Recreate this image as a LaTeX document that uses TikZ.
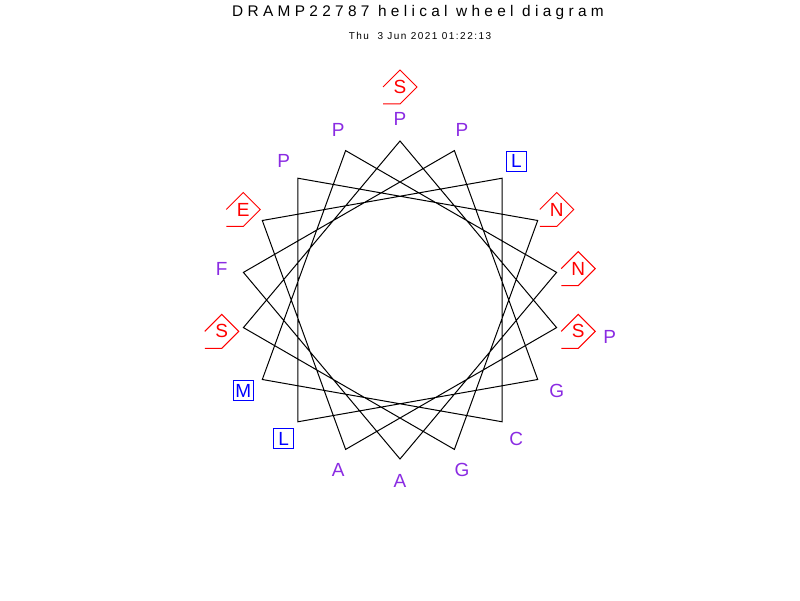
\documentclass[tikz,border=0pt]{standalone}
\usepackage{fontspec}
\setmainfont{Liberation Sans}
\usepackage{tikz}
\usetikzlibrary{positioning,calc}

\definecolor{hydviolet}{RGB}{138,43,226}

% open pentagon drawn round a polar residue
\newcommand{\polmark}[1]{%
  \draw[polline] ([xshift=-17pt]#1.center) -- ++(17,17) -- ++(17,-17)
    -- ++(-17,-17) -- ++(-17,0);}

\begin{document}
\begin{tikzpicture}[
  x=1pt, y=1pt,
  every node/.style={inner sep=0pt, font=\fontsize{19}{19}\selectfont},
  titletext/.style={font=\fontsize{15.4}{16}\selectfont\addfontfeatures{LetterSpace=28}},
  datetext/.style={font=\fontsize{10}{11}\selectfont\addfontfeatures{LetterSpace=15}},
  hyd/.style={text=hydviolet},
  pol/.style={text=red},
  polline/.style={red, line width=1pt},
  apol/.style={draw=blue, text=blue, minimum size=20pt, line width=1pt},
  wheel/.style={line width=1pt, line join=miter}
]
  \useasboundingbox (0,0) rectangle (800,600);
  \coordinate (ctr) at (400,300);

  \node[titletext] (title) at (418,587) {DRAMP22787 helical wheel diagram};
  \node[datetext] (date) at (420,564) {Thu\ \ 3 Jun 2021 01:22:13};

  % wheel vertices, 100 degrees apart
  \foreach \i in {1,...,18}
    \coordinate (v\i) at ($(ctr)+({90-(\i-1)*100}:159)$);
  \draw[wheel] (v1) \foreach \i in {2,...,18} {-- (v\i)} -- cycle;

  % residues
  \node[hyd]  (r1)  at ($(ctr)+(90:181)$)   {P};
  \node[pol]  (r2)  at ($(ctr)+(-10:181)$)  {S};
  \node[hyd]  (r3)  at ($(ctr)+(-110:181)$) {A};
  \node[pol]  (r4)  at ($(ctr)+(150:181)$)  {E};
  \node[apol] (r5)  at ($(ctr)+(50:181)$)   {L};
  \node[hyd]  (r6)  at ($(ctr)+(-50:181)$)  {C};
  \node[apol] (r7)  at ($(ctr)+(-150:181)$) {M};
  \node[hyd]  (r8)  at ($(ctr)+(110:181)$)  {P};
  \node[pol]  (r9)  at ($(ctr)+(10:181)$)   {N};
  \node[hyd]  (r10) at ($(ctr)+(-90:181)$)  {A};
  \node[hyd]  (r11) at ($(ctr)+(170:181)$)  {F};
  \node[hyd]  (r12) at ($(ctr)+(70:181)$)   {P};
  \node[hyd]  (r13) at ($(ctr)+(-30:181)$)  {G};
  \node[apol] (r14) at ($(ctr)+(-130:181)$) {L};
  \node[hyd]  (r15) at ($(ctr)+(130:181)$)  {P};
  \node[pol]  (r16) at ($(ctr)+(30:181)$)   {N};
  \node[hyd]  (r17) at ($(ctr)+(-70:181)$)  {G};
  \node[pol]  (r18) at ($(ctr)+(-170:181)$) {S};
  \node[pol]  (r19) at ($(ctr)+(90:213)$)   {S};
  \node[hyd]  (r20) at ($(ctr)+(-10:213)$)  {P};

  \polmark{r2}
  \polmark{r4}
  \polmark{r9}
  \polmark{r16}
  \polmark{r18}
  \polmark{r19}
\end{tikzpicture}
\end{document}
